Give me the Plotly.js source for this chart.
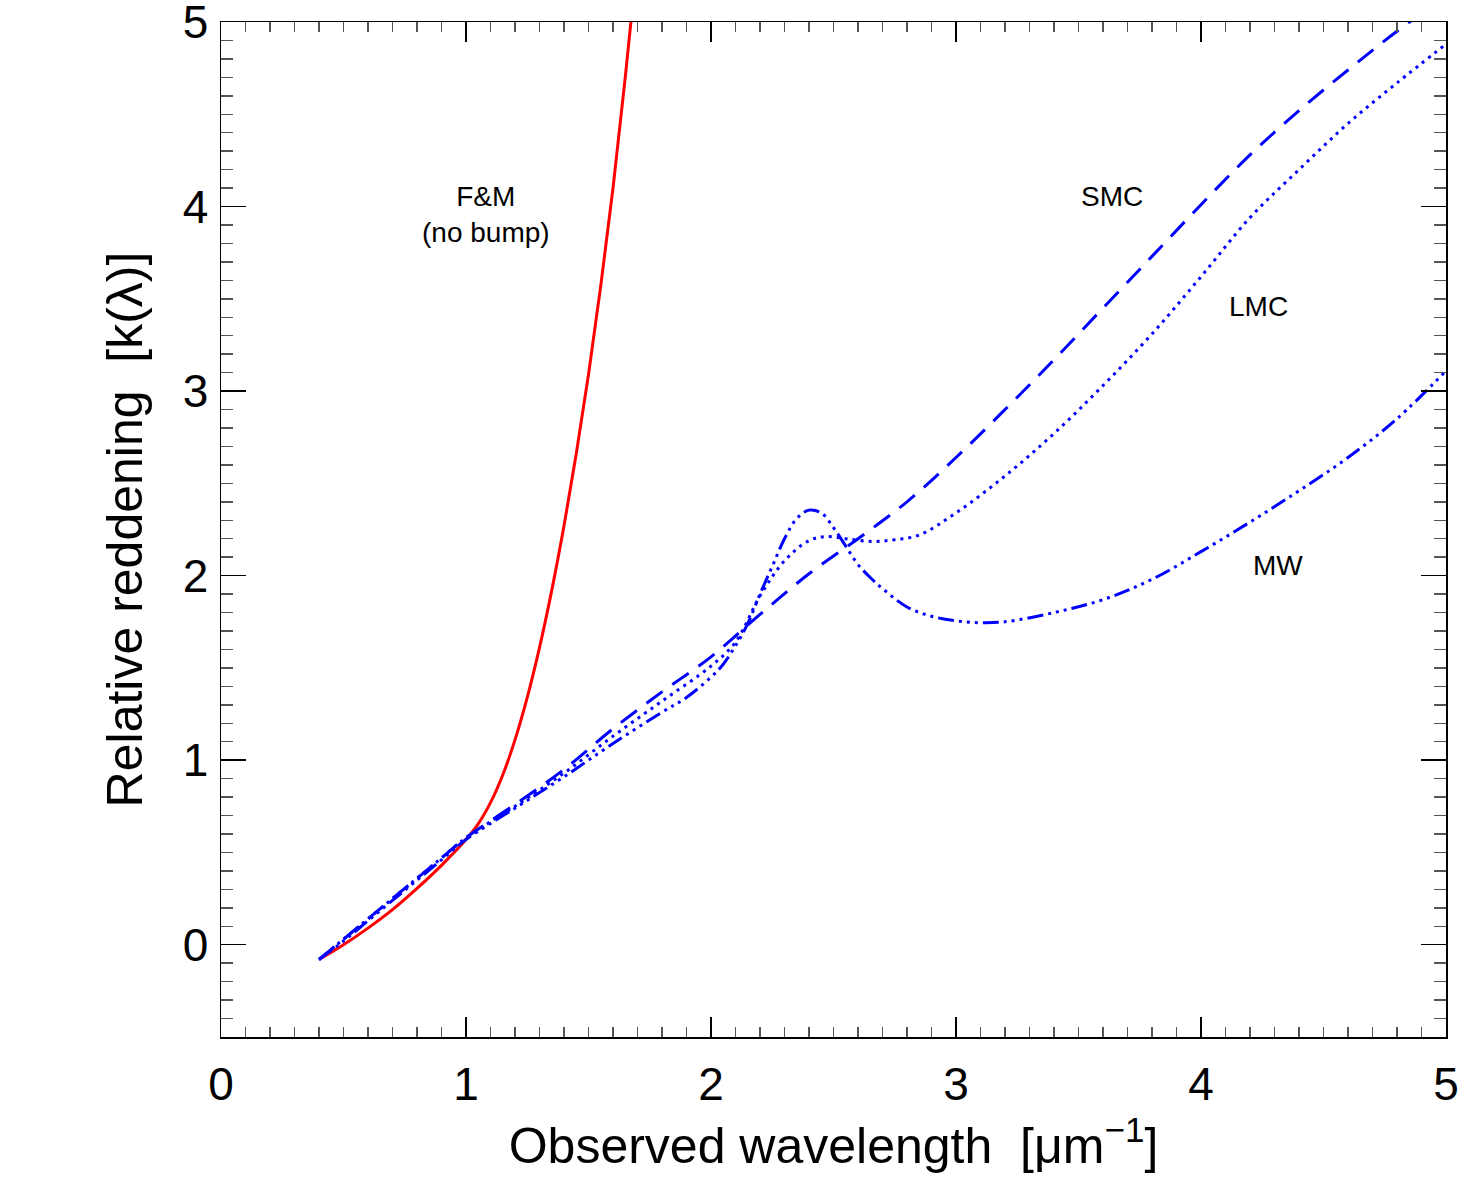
<!DOCTYPE html>
<html>
<head>
<meta charset="utf-8">
<script src="https://cdn.plot.ly/plotly-3.0.1.min.js"></script>
<style>html,body{margin:0;padding:0;background:#fff;}#chart{width:1475px;height:1180px;}</style>
</head>
<body>
<div id="chart"></div>
<script>
// F&M (no bump) - red solid
const fmX = [0.4, 0.5, 0.6, 0.7, 0.8, 0.9, 1.0, 1.05, 1.1, 1.15, 1.2, 1.25, 1.3, 1.35, 1.4, 1.45, 1.5, 1.55, 1.6, 1.65, 1.7];
const fmY = [-0.08, 0.0, 0.09, 0.19, 0.305, 0.43, 0.57, 0.655, 0.77, 0.92, 1.11, 1.34, 1.61, 1.92, 2.27, 2.66, 3.09, 3.57, 4.1, 4.7, 5.35];

// SMC - dashed
const smcX = [0.4, 0.5, 0.6, 0.7, 0.8, 0.9, 1.0, 1.2, 1.4, 1.6, 1.8, 2.0, 2.2, 2.4, 2.6, 2.8, 3.0, 3.2, 3.4, 3.6, 3.8, 4.0, 4.2, 4.4, 4.6, 4.8, 5.0];
const smcY = [-0.08, 0.03, 0.14, 0.25, 0.36, 0.47, 0.58, 0.76, 0.95, 1.17, 1.37, 1.56, 1.79, 2.01, 2.2, 2.4, 2.64, 2.9, 3.17, 3.45, 3.73, 4.01, 4.28, 4.52, 4.74, 4.95, 5.14];

// LMC - dotted
const lmcX = [0.4, 0.5, 0.6, 0.7, 0.8, 0.9, 1.0, 1.2, 1.4, 1.6, 1.8, 2.0, 2.1, 2.2, 2.3, 2.4, 2.47, 2.55, 2.66, 2.75, 2.85, 3.0, 3.2, 3.4, 3.6, 3.8, 4.0, 4.2, 4.4, 4.6, 4.8, 5.0];
const lmcY = [-0.08, 0.03, 0.14, 0.25, 0.36, 0.47, 0.58, 0.75, 0.93, 1.13, 1.32, 1.51, 1.64, 1.89, 2.08, 2.19, 2.212, 2.2, 2.185, 2.195, 2.22, 2.34, 2.54, 2.77, 3.03, 3.31, 3.62, 3.94, 4.2, 4.45, 4.67, 4.88];

// MW - dash-dot-dot-dot
const mwX = [0.4, 0.5, 0.6, 0.7, 0.8, 0.9, 1.0, 1.2, 1.4, 1.6, 1.8, 1.9, 2.0, 2.05, 2.1, 2.15, 2.2, 2.25, 2.3, 2.35, 2.4, 2.45, 2.5, 2.55, 2.6, 2.65, 2.7, 2.8, 2.9, 3.0, 3.1, 3.2, 3.4, 3.6, 3.8, 4.0, 4.2, 4.4, 4.6, 4.8, 5.0];
const mwY = [-0.08, 0.02, 0.13, 0.24, 0.35, 0.46, 0.57, 0.74, 0.91, 1.09, 1.26, 1.34, 1.45, 1.52, 1.62, 1.74, 1.9, 2.05, 2.2, 2.31, 2.355, 2.34, 2.26, 2.16, 2.06, 1.99, 1.93, 1.83, 1.78, 1.755, 1.745, 1.75, 1.8, 1.87, 1.98, 2.13, 2.29, 2.46, 2.64, 2.85, 3.11];

// Tick values / labels
const xTickVals = [0, 1, 2, 3, 4, 5];
const yTickVals = [0, 1, 2, 3, 4, 5];
const tickText = ["0", "1", "2", "3", "4", "5"];

// Labels
const labelText = ["F&amp;M<br>(no bump)", "SMC", "LMC", "MW"];
const labelX = [1.082, 3.637, 4.233, 4.314];
const labelY = [3.955, 4.057, 3.456, 2.053];

const FONT = "Liberation Sans, Arial, Helvetica, sans-serif";

const traces = [
  {x: fmX, y: fmY, mode: "lines", line: {color: "#ff0000", width: 3, shape: "spline", smoothing: 1}},
  {x: smcX, y: smcY, mode: "lines", line: {color: "#0000ff", width: 3, dash: "20px,12px", shape: "spline", smoothing: 1}},
  {x: lmcX, y: lmcY, mode: "lines", line: {color: "#0000ff", width: 3, dash: "3px,5px", shape: "spline", smoothing: 1}},
  {x: mwX, y: mwY, mode: "lines", line: {color: "#0000ff", width: 3, dash: "16px,5px,3px,5px,3px,5px,3px,5px", shape: "spline", smoothing: 1}}
];

const axisCommon = {
  showgrid: false, zeroline: false, showline: true, linecolor: "#000", linewidth: 1.5,
  mirror: "ticks", ticks: "inside", tickcolor: "#000", tickwidth: 1.5,
  tickfont: {family: FONT, size: 46, color: "#000"},
  ticklabeloverflow: "allow",
  tickmode: "array", ticktext: tickText
};

const layout = {
  width: 1475, height: 1180,
  paper_bgcolor: "#fff", plot_bgcolor: "#fff",
  margin: {l: 221, r: 29, t: 22, b: 143},
  showlegend: false,
  font: {family: FONT, color: "#000"},
  xaxis: Object.assign({}, axisCommon, {
    range: [0, 5], tickvals: xTickVals, ticklen: 20, ticklabelstandoff: 6, automargin: true,
    minor: {dtick: 0.1, tick0: 0, ticks: "inside", ticklen: 10, tickcolor: "#555", tickwidth: 1.5},
    title: {text: "Observed wavelength\u00a0\u00a0[μm<sup>−1</sup>]", font: {family: FONT, size: 50, color: "#000"}, standoff: 0}
  }),
  yaxis: Object.assign({}, axisCommon, {
    range: [-0.5, 5], tickvals: yTickVals, ticklen: 25, ticklabelstandoff: 2,
    minor: {dtick: 0.1, tick0: 0, ticks: "inside", ticklen: 12, tickcolor: "#555", tickwidth: 1.5},
    title: {text: "Relative reddening\u00a0\u00a0[k(λ)]", font: {family: FONT, size: 50, color: "#000"}, standoff: 24}
  }),
  annotations: labelText.map((t, i) => ({
    x: labelX[i], y: labelY[i], xref: "x", yref: "y", text: t, showarrow: false,
    font: {family: FONT, size: 28, color: "#000"}, xanchor: "center", yanchor: "middle"
  }))
};

Plotly.newPlot("chart", traces, layout, {displayModeBar: false, staticPlot: true});
</script>
</body>
</html>
